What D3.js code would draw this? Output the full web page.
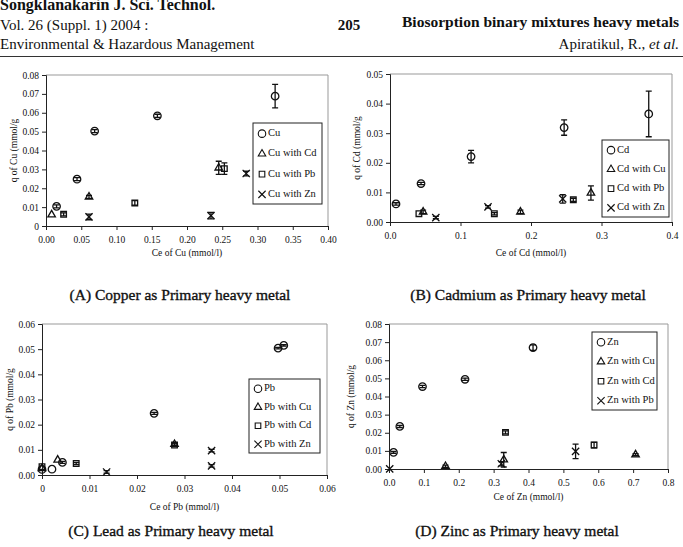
<!DOCTYPE html>
<html>
<head>
<meta charset="utf-8">
<script src="https://cdn.jsdelivr.net/npm/d3@7"></script>
<style>
body { margin: 0; background: #fff; }
svg { display: block; }
text { font-family: "Liberation Serif", "Times New Roman", serif; fill: #111; }
</style>
</head>
<body>
<svg id="page" width="683" height="547"></svg>
<script>
// values, each point is [Ce, q, error]
// (A) copper
const cuAlone = [[0.015, 0.0104, 0.0008], [0.044, 0.0248, 0.0008], [0.069, 0.0503, 0.0008], [0.158, 0.0584, 0.0008], [0.325, 0.0688, 0.0062]];
const cuWithCd = [[0.008, 0.006, 0], [0.061, 0.0154, 0.0008], [0.245, 0.0308, 0.0035]];
const cuWithPb = [[0.025, 0.0062, 0.0008], [0.126, 0.0122, 0.0012], [0.253, 0.0304, 0.003]];
const cuWithZn = [[0.061, 0.0048, 0.0015], [0.234, 0.0055, 0.0017], [0.284, 0.0278, 0.0012]];
// (B) cadmium
const cdAlone = [[0.0085, 0.0061, 0.0004], [0.044, 0.013, 0.0004], [0.115, 0.0221, 0.0021], [0.247, 0.0319, 0.0026], [0.367, 0.0365, 0.0077]];
const cdWithCu = [[0.047, 0.0034, 0.0006], [0.185, 0.0034, 0.0006], [0.285, 0.0098, 0.0024]];
const cdWithPb = [[0.041, 0.0028, 0], [0.148, 0.0028, 0.0004], [0.26, 0.0075, 0.0005]];
const cdWithZn = [[0.065, 0.0015, 0.0004], [0.139, 0.0051, 0.0004], [0.245, 0.0078, 0.0014]];
// (C) lead
const pbAlone = [[0, 0.0022, 0], [0.0021, 0.0023, 0], [0.0043, 0.005, 0.0004], [0.0236, 0.0245, 0.0004], [0.0497, 0.0504, 0.0003], [0.0509, 0.0515, 0.0003]];
const pbWithCu = [[0, 0.0026, 0], [0.0033, 0.006, 0], [0.0279, 0.0122, 0.0005]];
const pbWithCd = [[0, 0.0033, 0], [0.0072, 0.0046, 0.0004], [0.0279, 0.0119, 0.0005]];
const pbWithZn = [[0.0136, 0.0012, 0.0005], [0.0357, 0.0097, 0.0005], [0.0357, 0.0036, 0.0005]];
// (D) zinc
const znAlone = [[0.013, 0.0092, 0.0005], [0.031, 0.0235, 0.0006], [0.096, 0.0455, 0.0006], [0.218, 0.0495, 0.0006], [0.413, 0.067, 0.0015]];
const znWithCu = [[0.162, 0.0015, 0.0006], [0.329, 0.0051, 0.004], [0.707, 0.0079, 0.0006]];
const znWithCd = [[0.334, 0.0202, 0.0008], [0.588, 0.0132, 0.0015]];
const znWithPb = [[0.002, 0.0001, 0], [0.322, 0.0029, 0.0012], [0.535, 0.0097, 0.004]];

// tick values and their printed labels
const xTicksA = [0, 0.05, 0.1, 0.15, 0.2, 0.25, 0.3, 0.35, 0.4];
const xLabelsA = ["0.00", "0.05", "0.10", "0.15", "0.20", "0.25", "0.30", "0.35", "0.40"];
const yTicksA = [0, 0.01, 0.02, 0.03, 0.04, 0.05, 0.06, 0.07, 0.08];
const yLabelsA = ["0", "0.01", "0.02", "0.03", "0.04", "0.05", "0.06", "0.07", "0.08"];
const xTicksB = [0, 0.1, 0.2, 0.3, 0.4];
const xLabelsB = ["0.0", "0.1", "0.2", "0.3", "0.4"];
const yTicksB = [0, 0.01, 0.02, 0.03, 0.04, 0.05];
const yLabelsB = ["0.00", "0.01", "0.02", "0.03", "0.04", "0.05"];
const xTicksC = [0, 0.01, 0.02, 0.03, 0.04, 0.05, 0.06];
const xLabelsC = ["0", "0.01", "0.02", "0.03", "0.04", "0.05", "0.06"];
const yTicksC = [0, 0.01, 0.02, 0.03, 0.04, 0.05, 0.06];
const yLabelsC = ["0.00", "0.01", "0.02", "0.03", "0.04", "0.05", "0.06"];
const xTicksD = [0, 0.1, 0.2, 0.3, 0.4, 0.5, 0.6, 0.7, 0.8];
const xLabelsD = ["0.0", "0.1", "0.2", "0.3", "0.4", "0.5", "0.6", "0.7", "0.8"];
const yTicksD = [0, 0.01, 0.02, 0.03, 0.04, 0.05, 0.06, 0.07, 0.08];
const yLabelsD = ["0.00", "0.01", "0.02", "0.03", "0.04", "0.05", "0.06", "0.07", "0.08"];

const legendA = ["Cu", "Cu with Cd", "Cu with Pb", "Cu with Zn"];
const legendB = ["Cd", "Cd with Cu", "Cd with Pb", "Cd with Zn"];
const legendC = ["Pb", "Pb with Cu", "Pb with Cd", "Pb with Zn"];
const legendD = ["Zn", "Zn with Cu", "Zn with Cd", "Zn with Pb"];

const symbolTypes = [d3.symbolCircle, d3.symbolTriangle2, d3.symbolSquare2, d3.symbolTimes];
const symbolSizes = [44, 40, 40, 36];

const svg = d3.select("#page");

// page header
const header = svg.append("g");
header.append("text").attr("x", 0).attr("y", 10).attr("font-size", 16).attr("font-weight", "bold").text("Songklanakarin J. Sci. Technol.");
header.append("text").attr("x", 0).attr("y", 30).attr("font-size", 15).text("Vol. 26 (Suppl. 1) 2004 :");
header.append("text").attr("x", 0).attr("y", 49).attr("font-size", 15).text("Environmental & Hazardous Management");
header.append("text").attr("x", 349).attr("y", 30).attr("font-size", 15).attr("font-weight", "bold").attr("text-anchor", "middle").text("205");
header.append("text").attr("x", 679).attr("y", 27).attr("font-size", 15.5).attr("font-weight", "bold").attr("text-anchor", "end").text("Biosorption binary mixtures heavy metals");
const auth = header.append("text").attr("x", 679).attr("y", 49).attr("font-size", 15).attr("text-anchor", "end");
auth.append("tspan").text("Apiratikul, R., ");
auth.append("tspan").attr("font-style", "italic").text("et al.");
header.append("line").attr("x1", 0).attr("x2", 683).attr("y1", 56.5).attr("y2", 56.5).attr("stroke", "#333").attr("stroke-width", 1.2);

const panels = [
  {
    box: [46, 328, 75, 226], xMax: 0.4, yMax: 0.08,
    xTicks: xTicksA, xLabels: xLabelsA, yTicks: yTicksA, yLabels: yLabelsA,
    series: [cuAlone, cuWithCd, cuWithPb, cuWithZn], names: legendA,
    legend: [253, 123, 69, 81],
    yTitle: "q of Cu (mmol/g", yTitleX: 15, xTitle: "Ce of Cu (mmol/l)", xTitleY: 256,
    caption: "(A) Copper as Primary heavy metal", capX: 180, capY: 300
  },
  {
    box: [390, 672, 74, 222], xMax: 0.4, yMax: 0.05,
    xTicks: xTicksB, xLabels: xLabelsB, yTicks: yTicksB, yLabels: yLabelsB,
    series: [cdAlone, cdWithCu, cdWithPb, cdWithZn], names: legendB,
    legend: [602, 140, 67, 77],
    yTitle: "q of Cd (mmol/g", yTitleX: 358, xTitle: "Ce of Cd (mmol/l)", xTitleY: 256,
    caption: "(B) Cadmium as Primary heavy metal", capX: 528, capY: 300
  },
  {
    box: [42, 327, 324, 475], xMax: 0.06, yMax: 0.06,
    xTicks: xTicksC, xLabels: xLabelsC, yTicks: yTicksC, yLabels: yLabelsC,
    series: [pbAlone, pbWithCu, pbWithCd, pbWithZn], names: legendC,
    legend: [249, 379, 71, 74],
    yTitle: "q of Pb (mmol/g", yTitleX: 11, xTitle: "Ce of Pb (mmol/l)", xTitleY: 510,
    caption: "(C) Lead as Primary heavy metal", capX: 171, capY: 536
  },
  {
    box: [389, 668, 324, 469], xMax: 0.8, yMax: 0.08,
    xTicks: xTicksD, xLabels: xLabelsD, yTicks: yTicksD, yLabels: yLabelsD,
    series: [znAlone, znWithCu, znWithCd, znWithPb], names: legendD,
    legend: [592, 332, 65, 78],
    yTitle: "q of Zn (mmol/g", yTitleX: 352, xTitle: "Ce of Zn (mmol/l)", xTitleY: 500,
    caption: "(D) Zinc as Primary heavy metal", capX: 517, capY: 536
  }
];

panels.forEach(p => drawPanel(p));

function drawPanel(p) {
  const [left, right, top, bottom] = p.box;
  const x = d3.scaleLinear().domain([0, p.xMax]).range([left, right]);
  const y = d3.scaleLinear().domain([0, p.yMax]).range([bottom, top]);
  const g = svg.append("g");

  // light plot frame (top and right)
  g.append("path")
    .attr("d", `M${left},${top}H${right}V${bottom}`)
    .attr("fill", "none").attr("stroke", "#999").attr("stroke-width", 1);

  const xAxis = g.append("g")
    .attr("transform", `translate(0,${bottom})`)
    .call(d3.axisBottom(x).tickValues(p.xTicks).tickSize(4).tickPadding(6)
      .tickFormat((d, i) => p.xLabels[i]));
  const yAxis = g.append("g")
    .attr("transform", `translate(${left},0)`)
    .call(d3.axisLeft(y).tickValues(p.yTicks).tickSize(4).tickPadding(3)
      .tickFormat((d, i) => p.yLabels[i]));
  [xAxis, yAxis].forEach(a => {
    a.selectAll("text").attr("font-size", 9.5).attr("font-family", "Liberation Serif");
    a.select(".domain").attr("stroke", "#222");
    a.selectAll(".tick line").attr("stroke", "#222");
  });

  g.append("text")
    .attr("transform", `translate(${p.yTitleX},${(top + bottom) / 2}) rotate(-90)`)
    .attr("text-anchor", "middle").attr("dominant-baseline", "middle")
    .attr("font-size", 9.5).text(p.yTitle);
  g.append("text")
    .attr("x", (left + right) / 2).attr("y", p.xTitleY)
    .attr("text-anchor", "middle").attr("font-size", 9.5).text(p.xTitle);
  // captions look heavier in the scan
  g.append("text")
    .attr("x", p.capX).attr("y", p.capY)
    .attr("text-anchor", "middle").attr("font-size", 15.5)
    .attr("stroke", "#111").attr("stroke-width", 0.35).text(p.caption);

  // points and error bars
  p.series.forEach((pts, si) => {
    const sg = g.append("g");
    pts.filter(d => d[2] > 0).forEach(d => {
      const cx = x(d[0]);
      const y1 = y(d[1] + d[2]), y2 = y(d[1] - d[2]);
      sg.append("path")
        .attr("d", `M${cx},${y1}V${y2}M${cx - 3},${y1}H${cx + 3}M${cx - 3},${y2}H${cx + 3}`)
        .attr("stroke", "#111").attr("stroke-width", 1.3).attr("fill", "none");
    });
    sg.selectAll("path.pt")
      .data(pts)
      .join("path")
      .attr("class", "pt")
      .attr("transform", d => `translate(${x(d[0])},${y(d[1])})`)
      .attr("d", d3.symbol().type(symbolTypes[si]).size(symbolSizes[si]))
      .attr("fill", "none").attr("stroke", "#111").attr("stroke-width", 1.3);
  });

  // legend
  const [lx, ly, lw, lh] = p.legend;
  const lg = g.append("g");
  lg.append("rect").attr("x", lx).attr("y", ly).attr("width", lw).attr("height", lh)
    .attr("fill", "#fff").attr("stroke", "#222").attr("stroke-width", 1);
  p.names.forEach((name, i) => {
    const iy = ly + lh * (i + 0.5) / 4 + 0.5;
    lg.append("path")
      .attr("transform", `translate(${lx + 9},${iy})`)
      .attr("d", d3.symbol().type(symbolTypes[i]).size(symbolSizes[i]))
      .attr("fill", "none").attr("stroke", "#111").attr("stroke-width", 1.1);
    lg.append("text").attr("x", lx + 15).attr("y", iy)
      .attr("dominant-baseline", "middle").attr("font-size", 10.5).text(name);
  });
}
</script>
</body>
</html>
